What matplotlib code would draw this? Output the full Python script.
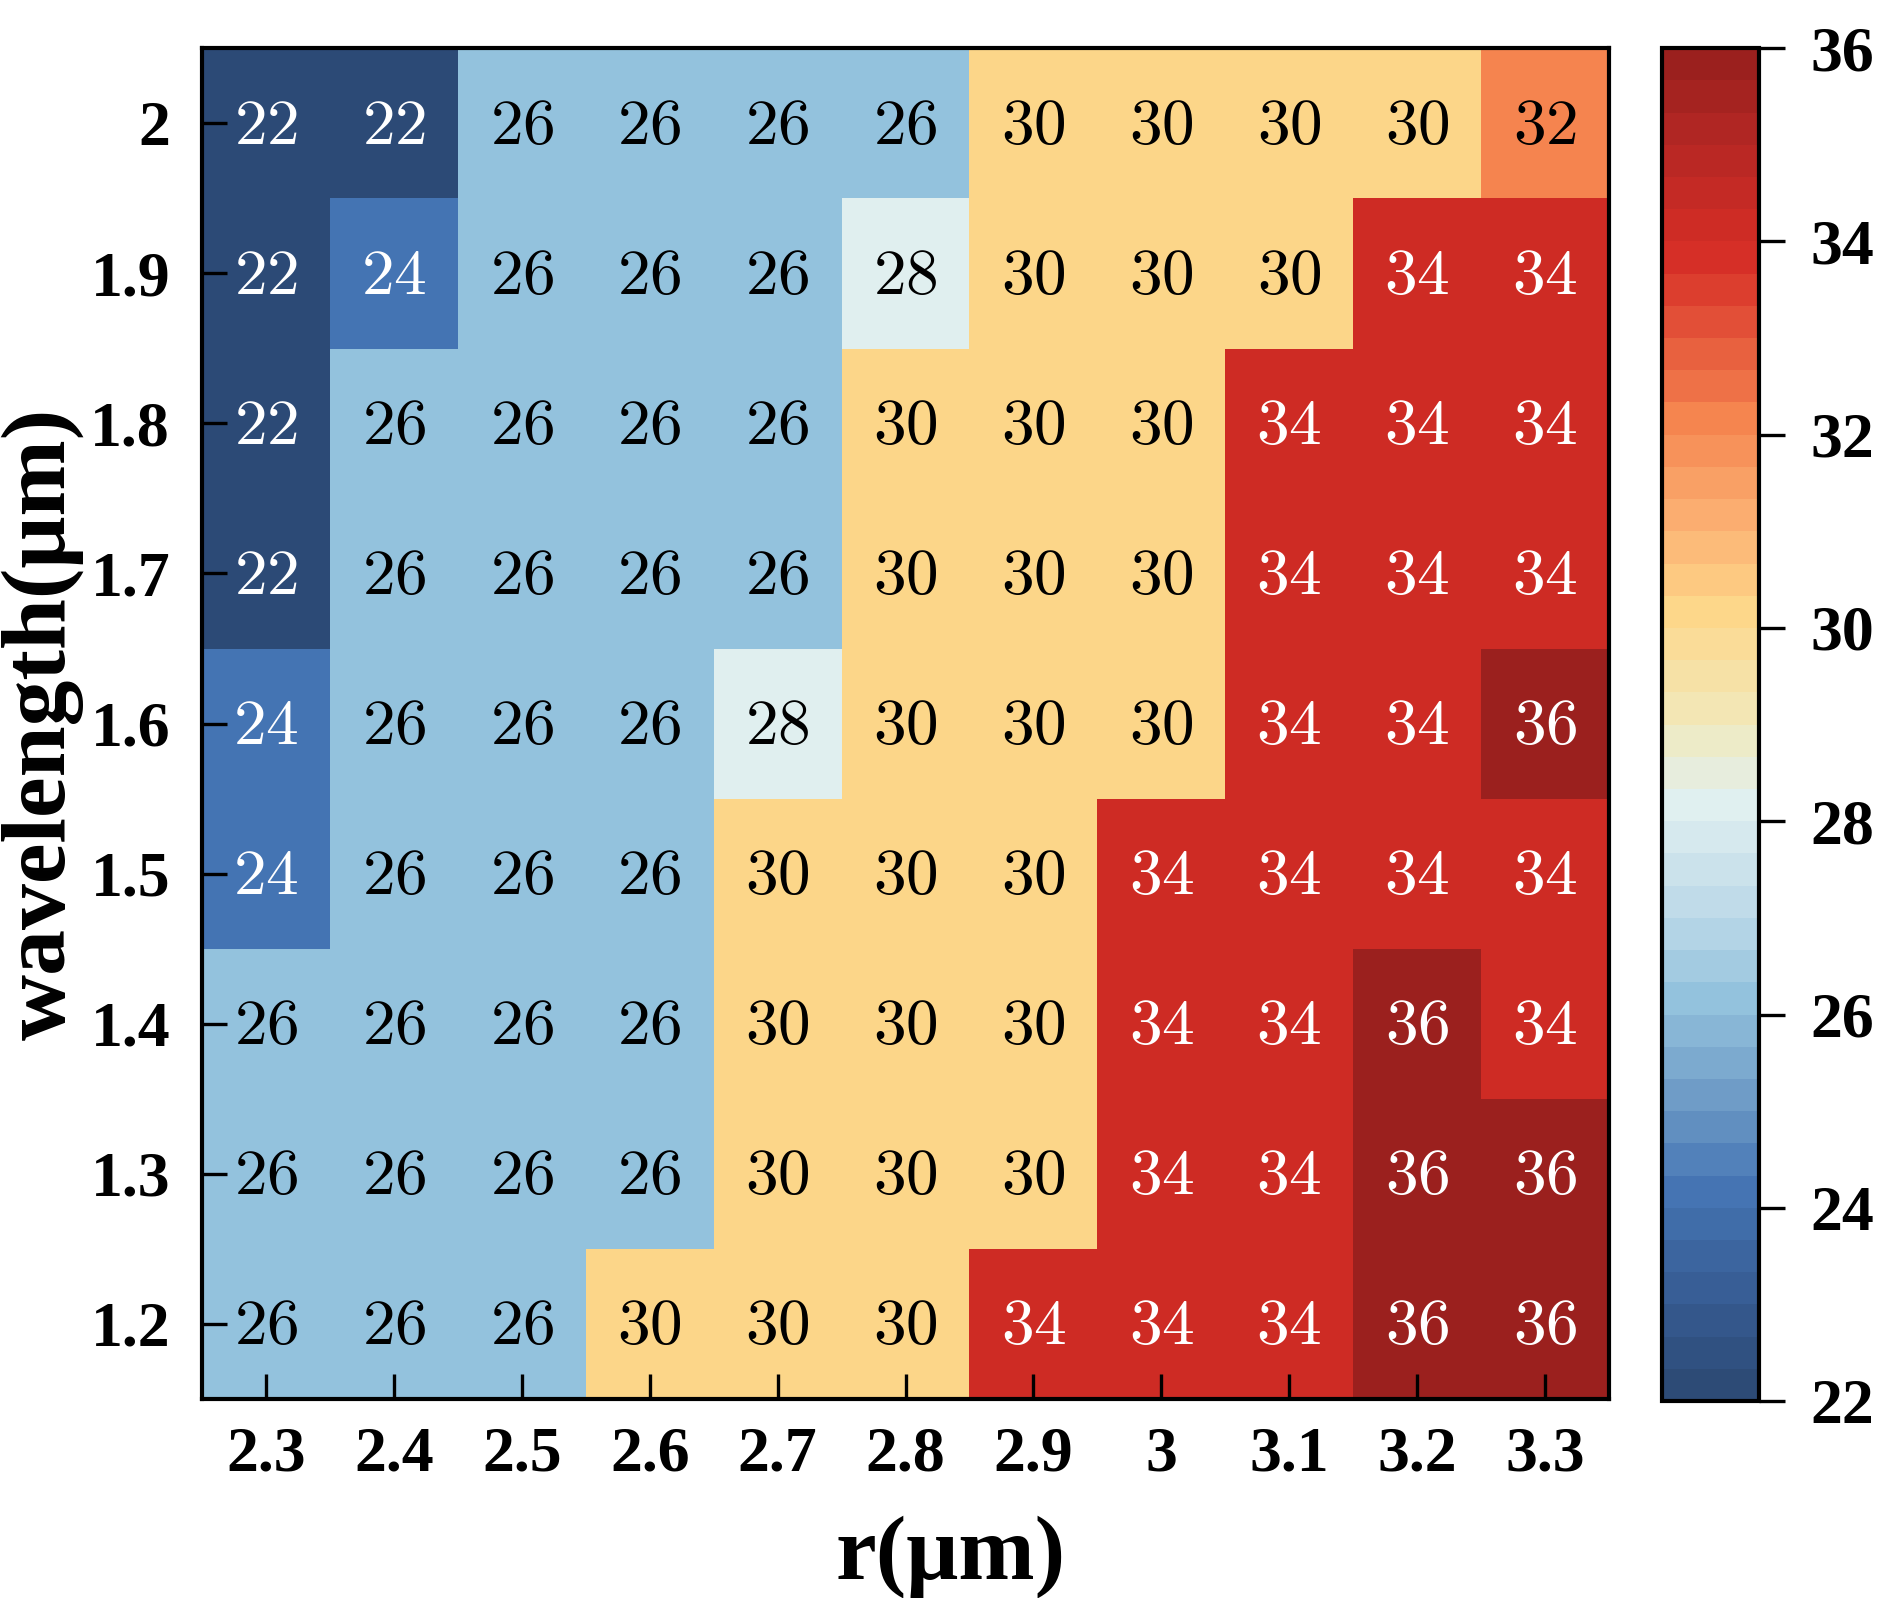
import matplotlib
matplotlib.use('Agg')
import matplotlib.pyplot as plt
import numpy as np
from matplotlib.colors import LinearSegmentedColormap, ListedColormap, Normalize
from matplotlib.cm import ScalarMappable

# r (um) along x, wavelength (um) along y (bottom -> top)
r_vals = [2.3, 2.4, 2.5, 2.6, 2.7, 2.8, 2.9, 3.0, 3.1, 3.2, 3.3]
wl_vals = [1.2, 1.3, 1.4, 1.5, 1.6, 1.7, 1.8, 1.9, 2.0]

# one list per wavelength row
row_12 = [26, 26, 26, 30, 30, 30, 34, 34, 34, 36, 36]
row_13 = [26, 26, 26, 26, 30, 30, 30, 34, 34, 36, 36]
row_14 = [26, 26, 26, 26, 30, 30, 30, 34, 34, 36, 34]
row_15 = [24, 26, 26, 26, 30, 30, 30, 34, 34, 34, 34]
row_16 = [24, 26, 26, 26, 28, 30, 30, 30, 34, 34, 36]
row_17 = [22, 26, 26, 26, 26, 30, 30, 30, 34, 34, 34]
row_18 = [22, 26, 26, 26, 26, 30, 30, 30, 34, 34, 34]
row_19 = [22, 24, 26, 26, 26, 28, 30, 30, 30, 34, 34]
row_20 = [22, 22, 26, 26, 26, 26, 30, 30, 30, 30, 32]

cbar_ticks = [22, 24, 26, 28, 30, 32, 34, 36]

plt.rcParams['font.family'] = ['Liberation Serif', 'DejaVu Serif']
plt.rcParams['font.weight'] = 'bold'
plt.rcParams['mathtext.fontset'] = 'cm'

# custom red-yellow-blue map, 42 discrete bands from 22 to 36
vmin, vmax = 22, 36
anchors = [
    (22.0, '#2b4871'), (23.0, '#365a91'), (24.17, '#4575b4'),
    (25.0, '#6a97c4'), (26.17, '#93c2dd'), (27.0, '#bbd8e8'),
    (28.17, '#e1f0f0'), (29.0, '#f1e9bc'), (30.17, '#fdd78a'),
    (31.0, '#fcb475'), (32.17, '#f5844f'), (33.0, '#e65a3c'),
    (33.8, '#d73027'), (34.17, '#cf2c25'), (35.0, '#b52724'),
    (36.0, '#961f1d'),
]
smooth = LinearSegmentedColormap.from_list(
    'rdylbu_custom', [((v - vmin) / (vmax - vmin), c) for v, c in anchors])
n_bands = 42
cmap = ListedColormap(smooth((np.arange(n_bands) + 0.5) / n_bands))
norm = Normalize(vmin=vmin, vmax=vmax)

data = np.array([row_12, row_13, row_14, row_15, row_16,
                 row_17, row_18, row_19, row_20])

fig = plt.figure(figsize=(18.83, 15.98), dpi=100)
ax = fig.add_axes([0.1073, 0.1245, 0.7472, 0.8454])
cax = fig.add_axes([0.8826, 0.1232, 0.0515, 0.8467])

ax.imshow(data, cmap=cmap, norm=norm, origin='lower', aspect='auto',
          interpolation='nearest')

for i in range(data.shape[0]):
    for j in range(data.shape[1]):
        v = data[i, j]
        col = 'white' if (v <= 24 or v >= 34) else 'black'
        ax.text(j, i - 0.03, f'${v}$', ha='center', va='center', fontsize=47,
                color=col)

ax.set_xticks(range(len(r_vals)))
ax.set_xticklabels([f'{v:g}' for v in r_vals])
ax.set_yticks(range(len(wl_vals)))
ax.set_yticklabels([f'{v:g}' for v in wl_vals])
ax.tick_params(axis='both', direction='in', length=18, width=2.4,
               labelsize=46)
ax.tick_params(axis='y', pad=23)
ax.tick_params(axis='x', pad=20)
for s in ax.spines.values():
    s.set_linewidth(3)

ax.set_xlabel('r(μm)', fontsize=66, fontweight='bold')
ax.set_ylabel('wavelength(μm)', fontsize=66, fontweight='bold')
ax.xaxis.set_label_coords(0.532, -0.086)
ax.yaxis.set_label_coords(-0.084, 0.5)

sm = ScalarMappable(norm=norm, cmap=cmap)
cb = fig.colorbar(sm, cax=cax, ticks=cbar_ticks)
cb.outline.set_linewidth(3)
cax.tick_params(direction='out', length=19, width=2.4, labelsize=46, pad=18)

fig.savefig('out.png', dpi=100)
